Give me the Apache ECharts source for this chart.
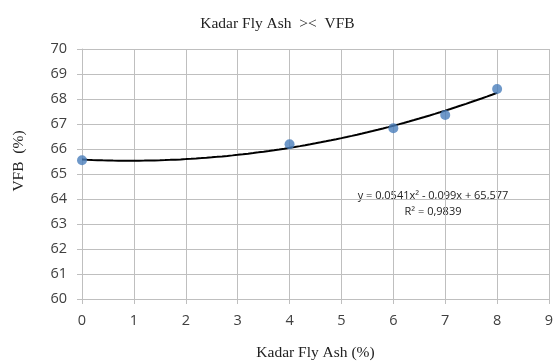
<!DOCTYPE html>
<html>
<head>
<meta charset="utf-8">
<script src="https://cdn.jsdelivr.net/npm/echarts@6/dist/echarts.min.js"></script>
<style>
  html, body { margin: 0; padding: 0; background: #fff; }
  #chart { width: 555px; height: 362px; }
</style>
</head>
<body>
<div id="chart"></div>
<script>
// Fly ash content (%) and measured VFB (%)
const kadarFlyAsh = [0, 4, 6, 7, 8];
const vfb = [65.55, 66.19, 66.83, 67.36, 68.40];

// Polynomial trendline coefficients as printed on the chart: a*x^2 + b*x + c
const trendCoef = [0.0541, -0.099, 65.577];
const trendText = ['y = 0,0541x² - 0,099x + 65,577', 'R² = 0,9839'];

const xTicks = [0, 1, 2, 3, 4, 5, 6, 7, 8, 9];
const yTicks = [60, 61, 62, 63, 64, 65, 66, 67, 68, 69, 70];

// Sample the printed trendline over the data range
const trendPts = [];
for (let i = 0; i <= 80; i++) {
  const x = i / 10;
  trendPts.push([x, trendCoef[0] * x * x + trendCoef[1] * x + trendCoef[2]]);
}

const chart = echarts.init(document.getElementById('chart'));
const serif = '"Liberation Serif", "Times New Roman", serif';
const sans = '"Open Sans", "Liberation Sans", sans-serif';
const gridColor = '#bfbfbf';

chart.setOption({
  animation: false,
  backgroundColor: '#fff',
  title: {
    text: 'Kadar Fly Ash  ><  VFB',
    left: 'center',
    top: 11,
    textStyle: { fontFamily: serif, fontSize: 15.5, fontWeight: 'normal', color: '#222' }
  },
  grid: { left: 82, right: 6, top: 49, bottom: 63, containLabel: false, outerBoundsMode: 'none' },
  xAxis: {
    type: 'value',
    min: xTicks[0], max: xTicks[xTicks.length - 1], interval: 1,
    name: 'Kadar Fly Ash (%)',
    nameLocation: 'middle',
    nameGap: 46,
    nameTextStyle: { fontFamily: serif, fontSize: 15.5, color: '#222' },
    axisLine: { show: true, lineStyle: { color: gridColor, width: 1 } },
    axisTick: { show: true, length: 5, lineStyle: { color: gridColor } },
    axisLabel: { fontFamily: sans, fontSize: 14.5, color: '#404040', margin: 14 },
    splitLine: { show: true, lineStyle: { color: gridColor, width: 1 } }
  },
  yAxis: {
    type: 'value',
    min: yTicks[0], max: yTicks[yTicks.length - 1], interval: 1,
    axisLine: { show: true, lineStyle: { color: gridColor, width: 1 } },
    axisTick: { show: true, length: 5, lineStyle: { color: gridColor } },
    axisLabel: { fontFamily: sans, fontSize: 14.5, color: '#404040', margin: 15 },
    splitLine: { show: true, lineStyle: { color: gridColor, width: 1 } }
  },
  series: [
    {
      type: 'line',
      data: trendPts,
      showSymbol: false,
      smooth: false,
      lineStyle: { color: '#000', width: 2 },
      z: 2
    },
    {
      type: 'scatter',
      data: kadarFlyAsh.map((x, i) => [x, vfb[i]]),
      symbolSize: 10,
      itemStyle: { color: '#4a7ebb' },
      z: 3
    }
  ],
  graphic: [
    {
      // y-axis title, rotated
      type: 'text', x: 19, y: 161, rotation: Math.PI / 2,
      style: { text: 'VFB  (%)', fontFamily: serif, fontSize: 15.5, fill: '#222', align: 'center', verticalAlign: 'middle' }
    },
    {
      type: 'text', x: 433, y: 196,
      style: { text: trendText[0], fontFamily: sans, fontSize: 11, fill: '#222', align: 'center', verticalAlign: 'middle' }
    },
    {
      type: 'text', x: 433, y: 212,
      style: { text: trendText[1], fontFamily: sans, fontSize: 11, fill: '#222', align: 'center', verticalAlign: 'middle' }
    }
  ]
});
</script>
</body>
</html>
